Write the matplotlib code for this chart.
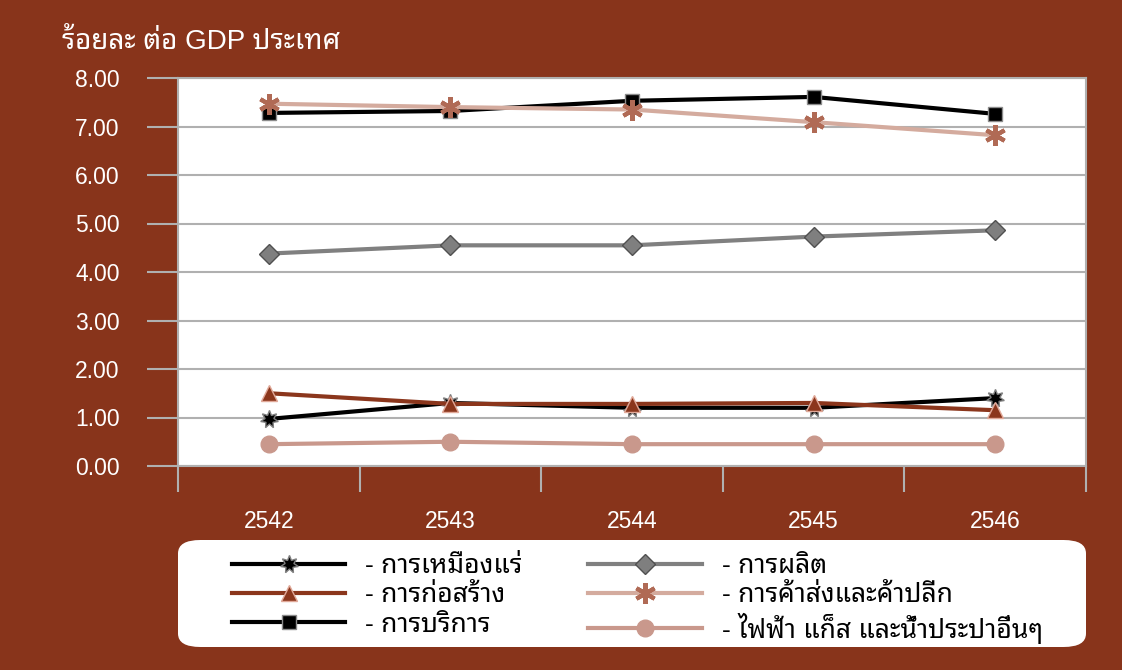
import matplotlib
matplotlib.use("Agg")
import matplotlib.pyplot as plt
import numpy as np
from matplotlib.patches import FancyBboxPatch
from matplotlib.ticker import FixedLocator

plt.rcParams["font.family"] = ["Liberation Sans", "Noto Sans Thai Looped",
                               "Noto Sans Thai", "DejaVu Sans"]

BG = "#88341B"
GRID = "#B0B0B0"

years = ["2542", "2543", "2544", "2545", "2546"]

mining = [0.97, 1.30, 1.20, 1.20, 1.40]
construction = [1.50, 1.28, 1.28, 1.30, 1.15]
services = [7.28, 7.32, 7.53, 7.61, 7.26]
manufacturing = [4.38, 4.55, 4.55, 4.73, 4.86]
trade = [7.47, 7.40, 7.35, 7.09, 6.82]
utilities = [0.45, 0.50, 0.45, 0.45, 0.45]

series = [
    ("- การเหมืองแร่", mining,
     dict(color="black", marker=(7, 1, 0), ms=13, mfc="black", mec="#7F7F7F")),
    ("- การก่อสร้าง", construction,
     dict(color="#8B361C", marker="^", ms=12, mfc="#8B361C", mec="#E0A898")),
    ("- การบริการ", services,
     dict(color="black", marker="s", ms=9.5, mfc="black", mec="#8C8C8C")),
    ("- การผลิต", manufacturing,
     dict(color="#808080", marker="D", ms=10.5, mfc="#7F7F7F", mec="#505050")),
    ("- การค้าส่งและค้าปลีก", trade,
     dict(color="#D4AB9E", marker=(6, 2, 0), ms=15, mfc="#B06A55", mec="#B06A55",
          mew=3)),
    ("- ไฟฟ้า แก็ส และน้ำประปาอื่นๆ", utilities,
     dict(color="#C9988C", marker="o", ms=12, mfc="#C9988C", mec="#C9988C")),
]

fig = plt.figure(figsize=(11.22, 6.70), dpi=100, facecolor=BG)
ax = fig.add_axes([178 / 1122, 1 - 466 / 670, (1086 - 178) / 1122, (466 - 78) / 670])
ax.set_facecolor("white")

x = np.arange(len(years))
handles = []
for label, vals, style in series:
    (ln,) = ax.plot(x, vals, lw=3, label=label, clip_on=False, zorder=3, **style)
    handles.append(ln)

ax.set_xlim(-0.5, len(years) - 0.5)
ax.set_ylim(0, 8)
ax.set_yticks(np.arange(0, 8.01, 1.0))
ax.set_yticklabels([f"{v:.2f}" for v in np.arange(0, 8.01, 1.0)])
ax.yaxis.grid(True, color=GRID, lw=1.5)
ax.set_axisbelow(True)

ax.set_xticks(x)
ax.set_xticklabels(years)
ax.xaxis.set_minor_locator(FixedLocator(np.arange(-0.5, len(years), 1.0)))
ax.tick_params(axis="x", which="major", length=0, pad=32, labelsize=16.5, colors="white")
ax.tick_params(axis="x", which="minor", length=19, width=1.5, color=GRID, direction="out")
ax.tick_params(axis="y", length=22, width=1.5, color=GRID, pad=20, labelsize=16.5,
               labelcolor="white")

for side in ["left", "right", "top", "bottom"]:
    ax.spines[side].set_color(GRID)
    ax.spines[side].set_linewidth(1.5)

fig.text(62 / 1122, 1 - 42 / 670, "ร้อยละ ต่อ GDP ประเทศ", color="white",
         fontsize=20, va="center", ha="left")

# white rounded panel behind the legend
panel = FancyBboxPatch(
    (178 / 1122, 1 - 647 / 670), (1086 - 178) / 1122, (647 - 540) / 670,
    boxstyle="round,pad=0,rounding_size=0.02", transform=fig.transFigure,
    facecolor="white", edgecolor="none", zorder=0,
)
fig.patches.append(panel)

leg = fig.legend(
    handles=handles, loc="upper left", ncol=2,
    bbox_to_anchor=(232 / 1122, 1 - 554 / 670),
    frameon=False, fontsize=19, handlelength=4.3, handletextpad=0.75,
    columnspacing=2.5, labelspacing=0.2, borderpad=0, borderaxespad=0,
)
for t in leg.get_texts():
    t.set_color("black")

fig.savefig("out.png", dpi=100, facecolor=BG)
